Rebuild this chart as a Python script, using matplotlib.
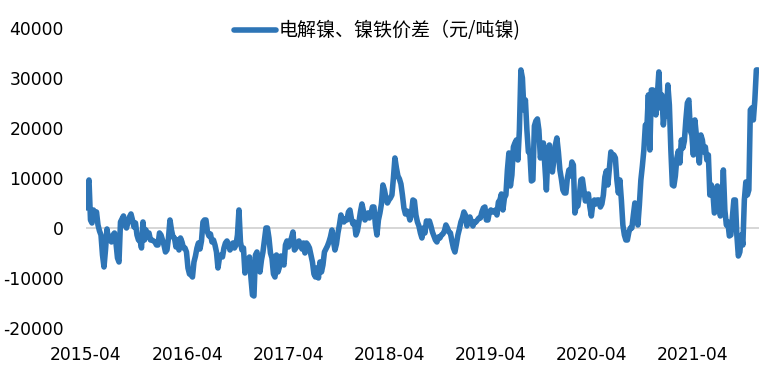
#!/usr/bin/env python3

import numpy as np
import pandas as pd
import matplotlib
matplotlib.use('Agg')
import matplotlib.pyplot as plt
import matplotlib.dates as mdates


# digits in DejaVu (wide like the original), CJK falls back to Noto
plt.rcParams['font.family'] = ['DejaVu Sans', 'Noto Sans CJK SC']
plt.rcParams['axes.unicode_minus'] = False

# series label
label = '电解镍、镍铁价差（元/吨镍)'

# first date and sampling step of the series (about every 5.4 days)
start = '2015-04-01'
step = '130h'

# spread values, yuan per ton of nickel
spread = [
    4000, 8600, 9600, 1600, 1000, 3600, 2200, 3200, 600, -600,
    -1400, -5400, -7800, -4400, -200, -2400, -2400, -2800, -1400, -1000,
    -3000, -6000, -6800, 1200, 1800, 2400, 600, 0, 1200, 2200,
    2800, 1600, 200, 1000, -1400, -2400, -2400, -4000, 1200, -2400,
    -400, -1600, -1000, -2400, -2400, -2600, -2800, -3400, -3400, -1000,
    -1400, -2400, -3400, -4800, -4400, -2000, 1600, -400, -1800, -2000,
    -3800, -2400, -4400, -2000, -2800, -4000, -4000, -4800, -8000, -9200,
    -9400, -9800, -6800, -5600, -4000, -3000, -4200, -2600, 1200, 1600,
    1600, -800, -1600, -1200, -2800, -2400, -3400, -4800, -8000, -6000,
    -5400, -5800, -4000, -3000, -2600, -3200, -4400, -3800, -3000, -4000,
    -3400, -1400, 3600, -2800, -4400, -4000, -9000, -6400, -7600, -5800,
    -10000, -13400, -13600, -5400, -4800, -6800, -8800, -6400, -4800, -2400,
    0, 0, -2000, -5000, -6000, -9200, -9800, -5400, -8800, -7800,
    -5600, -6800, -7400, -3400, -2600, -3800, -3000, -2000, -800, -4400,
    -4000, -3000, -2600, -3400, -4200, -3000, -5000, -3000, -3400, -4000,
    -5400, -6800, -9200, -9800, -8000, -10000, -6800, -8800, -7400, -4800,
    -4200, -3600, -2800, -1800, -400, -2600, -4400, -3200, -1000, 600,
    2600, 1600, 1200, 1800, 1600, 3200, 3600, 1800, 800, 1200,
    -1400, -600, 1200, 3200, 4800, 3400, 1600, 2200, 3000, 2000,
    2800, 4200, 4200, 600, -1400, 1600, 3000, 4800, 8600, 7600,
    6000, 5000, 5600, 6000, 6600, 10000, 14000, 12000, 10400, 9800,
    8800, 6600, 4000, 2800, 3400, 2800, 1600, 2800, 5600, 5400,
    2600, 1200, 400, -1000, -2000, 0, -1000, 1400, 1200, 1400,
    400, -800, -1600, -2400, -2800, -1800, -2000, -1400, -1200, -600,
    600, 0, -800, -1000, -2600, -4000, -4800, -3200, -1400, -200,
    1200, 2000, 3200, 2600, 400, 1600, 2200, 1200, 400, 1200,
    1200, 1600, 2000, 2000, 3200, 4000, 4200, 1600, 1600, 3200,
    3600, 3200, 3200, 3600, 2600, 5200, 5600, 6800, 3600, 6000,
    6600, 11600, 15000, 8400, 10600, 16200, 17000, 17600, 13600, 19600,
    31600, 30000, 23600, 25600, 19600, 15200, 15000, 9400, 9600, 20400,
    21400, 21800, 19600, 14000, 15600, 17000, 12200, 7600, 14600, 16600,
    13600, 11200, 13600, 16600, 18000, 15200, 11600, 9800, 7600, 7000,
    7000, 10000, 11600, 10400, 13200, 12600, 3000, 4600, 4400, 6600,
    9600, 9800, 7600, 5400, 6200, 6800, 4200, 2400, 5000, 5600,
    4800, 5600, 5600, 4200, 4800, 6600, 10200, 11400, 8600, 12000,
    15200, 14600, 14600, 14000, 9600, 7000, 9600, 5600, 600, -1400,
    -2400, -2400, -800, 0, 0, 2600, 5000, 4200, 600, 4600,
    9600, 12400, 15600, 20600, 20000, 26600, 15600, 27600, 27600, 25000,
    22600, 26600, 31200, 24000, 26600, 20600, 23600, 22400, 28600, 24600,
    15600, 8600, 8400, 10400, 14000, 15400, 13000, 17600, 16000, 17400,
    21600, 25000, 25600, 19400, 18600, 14600, 21600, 18600, 15600, 13000,
    18600, 17600, 15200, 16200, 13600, 14600, 6600, 8600, 7200, 3000,
    3600, 8400, 5600, 2400, 4600, 11600, 3600, 600, 1200, -1600,
    -1400, 2000, 5600, 5600, -1400, -5600, -4800, -1400, -3400, 5600,
    9200, 6600, 7600, 23600, 24000, 21600, 25600, 31600, 31600,
]

y_ticks = [-20000, -10000, 0, 10000, 20000, 30000, 40000]
x_ticks = ['2015-04', '2016-04', '2017-04', '2018-04', '2019-04', '2020-04', '2021-04']

dates = pd.date_range(start, periods=len(spread), freq=step)

fig = plt.figure(figsize=(7.59, 3.70), dpi=100)
ax = fig.add_axes([0.1133, 0.1135, 0.887, 0.811])

ax.axhline(0, color='#D0D0D0', lw=1.2, zorder=1)
ax.plot(dates, spread, color='#2E75B6', lw=4.0, solid_joinstyle='round',
        solid_capstyle='round', label=label, zorder=2)

ax.set_ylim(-20000, 40000)
ax.set_yticks(y_ticks)
ax.set_xlim(dates[0], dates[-1] + pd.Timedelta(days=5))
ax.set_xticks([pd.Timestamp(t + '-01') for t in x_ticks])
ax.xaxis.set_major_formatter(mdates.DateFormatter('%Y-%m'))

for s in ax.spines.values():
    s.set_visible(False)
ax.tick_params(axis='both', length=0, labelsize=12.3, colors='black')
ax.tick_params(axis='y', pad=16)
ax.tick_params(axis='x', pad=13)

leg = fig.legend(loc='center', bbox_to_anchor=(0.497, 0.916), frameon=False,
                 handlelength=2.2, handletextpad=0.15,
                 prop={'family': ['Noto Sans CJK SC', 'DejaVu Sans'], 'size': 13.7})

fig.savefig('out.png', dpi=100)
